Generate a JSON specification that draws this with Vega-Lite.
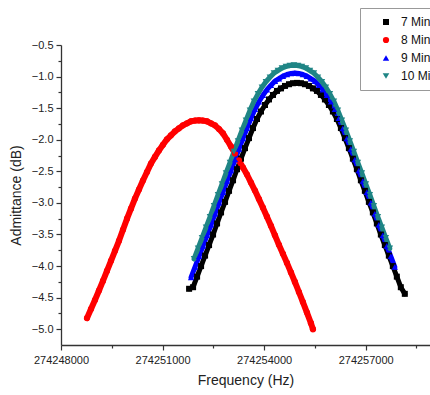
{
  "$schema": "https://vega.github.io/schema/vega-lite/v6.json",
  "autosize": {"type": "none"},
  "padding": {"left": 61, "top": 45, "right": 0, "bottom": 50},
  "width": 369,
  "height": 300,
  "background": "white",
  "config": {
    "view": {"stroke": null},
    "font": "Liberation Sans",
    "axis": {"grid": false, "domainColor": "#333", "tickColor": "#333", "domainWidth": 1.3, "tickWidth": 1.2, "labelColor": "#222", "titleColor": "#222", "labelFont": "Liberation Sans", "titleFont": "Liberation Sans", "titleFontWeight": "normal"}
  },
  "datasets": {
    "curves": [
      {"s":"7 Min","f":274251784,"v":-4.36},{"s":"7 Min","f":274251902,"v":-4.335},{"s":"7 Min","f":274252020,"v":-4.168},{"s":"7 Min","f":274252138,"v":-4.001},{"s":"7 Min","f":274252256,"v":-3.835},{"s":"7 Min","f":274252374,"v":-3.668},{"s":"7 Min","f":274252492,"v":-3.501},{"s":"7 Min","f":274252610,"v":-3.326},{"s":"7 Min","f":274252728,"v":-3.151},{"s":"7 Min","f":274252846,"v":-2.984},{"s":"7 Min","f":274252964,"v":-2.809},{"s":"7 Min","f":274253082,"v":-2.642},{"s":"7 Min","f":274253200,"v":-2.467},{"s":"7 Min","f":274253318,"v":-2.300},{"s":"7 Min","f":274253436,"v":-2.133},{"s":"7 Min","f":274253554,"v":-1.974},{"s":"7 Min","f":274253672,"v":-1.815},{"s":"7 Min","f":274253790,"v":-1.672},{"s":"7 Min","f":274253908,"v":-1.553},{"s":"7 Min","f":274254026,"v":-1.450},{"s":"7 Min","f":274254144,"v":-1.362},{"s":"7 Min","f":274254262,"v":-1.291},{"s":"7 Min","f":274254380,"v":-1.227},{"s":"7 Min","f":274254498,"v":-1.187},{"s":"7 Min","f":274254616,"v":-1.148},{"s":"7 Min","f":274254734,"v":-1.121},{"s":"7 Min","f":274254852,"v":-1.105},{"s":"7 Min","f":274254970,"v":-1.100},{"s":"7 Min","f":274255088,"v":-1.105},{"s":"7 Min","f":274255206,"v":-1.121},{"s":"7 Min","f":274255324,"v":-1.148},{"s":"7 Min","f":274255442,"v":-1.187},{"s":"7 Min","f":274255560,"v":-1.227},{"s":"7 Min","f":274255678,"v":-1.291},{"s":"7 Min","f":274255796,"v":-1.362},{"s":"7 Min","f":274255914,"v":-1.450},{"s":"7 Min","f":274256032,"v":-1.553},{"s":"7 Min","f":274256150,"v":-1.672},{"s":"7 Min","f":274256268,"v":-1.815},{"s":"7 Min","f":274256386,"v":-1.974},{"s":"7 Min","f":274256504,"v":-2.133},{"s":"7 Min","f":274256622,"v":-2.300},{"s":"7 Min","f":274256740,"v":-2.467},{"s":"7 Min","f":274256858,"v":-2.642},{"s":"7 Min","f":274256976,"v":-2.809},{"s":"7 Min","f":274257094,"v":-2.984},{"s":"7 Min","f":274257212,"v":-3.151},{"s":"7 Min","f":274257330,"v":-3.326},{"s":"7 Min","f":274257448,"v":-3.501},{"s":"7 Min","f":274257566,"v":-3.668},{"s":"7 Min","f":274257684,"v":-3.835},{"s":"7 Min","f":274257802,"v":-4.001},{"s":"7 Min","f":274257920,"v":-4.168},{"s":"7 Min","f":274258038,"v":-4.335},{"s":"7 Min","f":274258156,"v":-4.44},
      {"s":"8 Min","f":274248768,"v":-4.824},{"s":"8 Min","f":274248886,"v":-4.681},{"s":"8 Min","f":274249004,"v":-4.538},{"s":"8 Min","f":274249122,"v":-4.387},{"s":"8 Min","f":274249240,"v":-4.236},{"s":"8 Min","f":274249358,"v":-4.077},{"s":"8 Min","f":274249477,"v":-3.918},{"s":"8 Min","f":274249595,"v":-3.759},{"s":"8 Min","f":274249713,"v":-3.600},{"s":"8 Min","f":274249831,"v":-3.425},{"s":"8 Min","f":274249950,"v":-3.250},{"s":"8 Min","f":274250067,"v":-3.091},{"s":"8 Min","f":274250185,"v":-2.932},{"s":"8 Min","f":274250303,"v":-2.789},{"s":"8 Min","f":274250421,"v":-2.646},{"s":"8 Min","f":274250540,"v":-2.511},{"s":"8 Min","f":274250658,"v":-2.376},{"s":"8 Min","f":274250776,"v":-2.272},{"s":"8 Min","f":274250894,"v":-2.169},{"s":"8 Min","f":274251012,"v":-2.081},{"s":"8 Min","f":274251130,"v":-1.994},{"s":"8 Min","f":274251248,"v":-1.930},{"s":"8 Min","f":274251366,"v":-1.867},{"s":"8 Min","f":274251484,"v":-1.819},{"s":"8 Min","f":274251603,"v":-1.772},{"s":"8 Min","f":274251721,"v":-1.740},{"s":"8 Min","f":274251839,"v":-1.708},{"s":"8 Min","f":274251957,"v":-1.697},{"s":"8 Min","f":274252075,"v":-1.692},{"s":"8 Min","f":274252193,"v":-1.697},{"s":"8 Min","f":274252311,"v":-1.708},{"s":"8 Min","f":274252430,"v":-1.740},{"s":"8 Min","f":274252548,"v":-1.772},{"s":"8 Min","f":274252666,"v":-1.830},{"s":"8 Min","f":274252784,"v":-1.899},{"s":"8 Min","f":274252902,"v":-2.000},{"s":"8 Min","f":274253020,"v":-2.106},{"s":"8 Min","f":274253138,"v":-2.217},{"s":"8 Min","f":274253256,"v":-2.328},{"s":"8 Min","f":274253375,"v":-2.440},{"s":"8 Min","f":274253493,"v":-2.551},{"s":"8 Min","f":274253611,"v":-2.678},{"s":"8 Min","f":274253729,"v":-2.805},{"s":"8 Min","f":274253847,"v":-2.940},{"s":"8 Min","f":274253965,"v":-3.076},{"s":"8 Min","f":274254083,"v":-3.219},{"s":"8 Min","f":274254201,"v":-3.362},{"s":"8 Min","f":274254320,"v":-3.513},{"s":"8 Min","f":274254438,"v":-3.664},{"s":"8 Min","f":274254556,"v":-3.807},{"s":"8 Min","f":274254674,"v":-3.950},{"s":"8 Min","f":274254792,"v":-4.101},{"s":"8 Min","f":274254910,"v":-4.252},{"s":"8 Min","f":274255028,"v":-4.411},{"s":"8 Min","f":274255146,"v":-4.570},{"s":"8 Min","f":274255265,"v":-4.737},{"s":"8 Min","f":274255383,"v":-4.904},{"s":"8 Min","f":274255442,"v":-5.000},
      {"s":"9 Min","f":274251842,"v":-4.180},{"s":"9 Min","f":274251960,"v":-4.013},{"s":"9 Min","f":274252078,"v":-3.846},{"s":"9 Min","f":274252196,"v":-3.680},{"s":"9 Min","f":274252314,"v":-3.513},{"s":"9 Min","f":274252432,"v":-3.346},{"s":"9 Min","f":274252550,"v":-3.171},{"s":"9 Min","f":274252668,"v":-2.996},{"s":"9 Min","f":274252786,"v":-2.829},{"s":"9 Min","f":274252904,"v":-2.654},{"s":"9 Min","f":274253022,"v":-2.487},{"s":"9 Min","f":274253140,"v":-2.312},{"s":"9 Min","f":274253258,"v":-2.145},{"s":"9 Min","f":274253376,"v":-1.978},{"s":"9 Min","f":274253494,"v":-1.819},{"s":"9 Min","f":274253612,"v":-1.660},{"s":"9 Min","f":274253730,"v":-1.517},{"s":"9 Min","f":274253848,"v":-1.398},{"s":"9 Min","f":274253966,"v":-1.295},{"s":"9 Min","f":274254084,"v":-1.207},{"s":"9 Min","f":274254202,"v":-1.136},{"s":"9 Min","f":274254320,"v":-1.072},{"s":"9 Min","f":274254438,"v":-1.032},{"s":"9 Min","f":274254556,"v":-0.993},{"s":"9 Min","f":274254674,"v":-0.966},{"s":"9 Min","f":274254792,"v":-0.950},{"s":"9 Min","f":274254910,"v":-0.945},{"s":"9 Min","f":274255028,"v":-0.950},{"s":"9 Min","f":274255146,"v":-0.966},{"s":"9 Min","f":274255264,"v":-0.993},{"s":"9 Min","f":274255382,"v":-1.032},{"s":"9 Min","f":274255500,"v":-1.072},{"s":"9 Min","f":274255618,"v":-1.136},{"s":"9 Min","f":274255736,"v":-1.207},{"s":"9 Min","f":274255854,"v":-1.295},{"s":"9 Min","f":274255972,"v":-1.398},{"s":"9 Min","f":274256090,"v":-1.517},{"s":"9 Min","f":274256208,"v":-1.660},{"s":"9 Min","f":274256326,"v":-1.819},{"s":"9 Min","f":274256444,"v":-1.978},{"s":"9 Min","f":274256562,"v":-2.145},{"s":"9 Min","f":274256680,"v":-2.312},{"s":"9 Min","f":274256798,"v":-2.487},{"s":"9 Min","f":274256916,"v":-2.654},{"s":"9 Min","f":274257034,"v":-2.829},{"s":"9 Min","f":274257152,"v":-2.996},{"s":"9 Min","f":274257270,"v":-3.171},{"s":"9 Min","f":274257388,"v":-3.346},{"s":"9 Min","f":274257506,"v":-3.513},{"s":"9 Min","f":274257624,"v":-3.680},{"s":"9 Min","f":274257742,"v":-3.846},{"s":"9 Min","f":274257860,"v":-4.013},
      {"s":"10 Min","f":274251930,"v":-3.888},{"s":"10 Min","f":274252048,"v":-3.721},{"s":"10 Min","f":274252166,"v":-3.555},{"s":"10 Min","f":274252284,"v":-3.388},{"s":"10 Min","f":274252402,"v":-3.221},{"s":"10 Min","f":274252520,"v":-3.046},{"s":"10 Min","f":274252638,"v":-2.871},{"s":"10 Min","f":274252756,"v":-2.704},{"s":"10 Min","f":274252874,"v":-2.529},{"s":"10 Min","f":274252992,"v":-2.362},{"s":"10 Min","f":274253110,"v":-2.187},{"s":"10 Min","f":274253228,"v":-2.020},{"s":"10 Min","f":274253346,"v":-1.853},{"s":"10 Min","f":274253464,"v":-1.694},{"s":"10 Min","f":274253582,"v":-1.535},{"s":"10 Min","f":274253700,"v":-1.392},{"s":"10 Min","f":274253818,"v":-1.273},{"s":"10 Min","f":274253936,"v":-1.170},{"s":"10 Min","f":274254054,"v":-1.082},{"s":"10 Min","f":274254172,"v":-1.011},{"s":"10 Min","f":274254290,"v":-0.947},{"s":"10 Min","f":274254408,"v":-0.907},{"s":"10 Min","f":274254526,"v":-0.868},{"s":"10 Min","f":274254644,"v":-0.841},{"s":"10 Min","f":274254762,"v":-0.825},{"s":"10 Min","f":274254880,"v":-0.820},{"s":"10 Min","f":274254998,"v":-0.825},{"s":"10 Min","f":274255116,"v":-0.841},{"s":"10 Min","f":274255234,"v":-0.868},{"s":"10 Min","f":274255352,"v":-0.907},{"s":"10 Min","f":274255470,"v":-0.947},{"s":"10 Min","f":274255588,"v":-1.011},{"s":"10 Min","f":274255706,"v":-1.082},{"s":"10 Min","f":274255824,"v":-1.170},{"s":"10 Min","f":274255942,"v":-1.273},{"s":"10 Min","f":274256060,"v":-1.392},{"s":"10 Min","f":274256178,"v":-1.535},{"s":"10 Min","f":274256296,"v":-1.694},{"s":"10 Min","f":274256414,"v":-1.853},{"s":"10 Min","f":274256532,"v":-2.020},{"s":"10 Min","f":274256650,"v":-2.187},{"s":"10 Min","f":274256768,"v":-2.362},{"s":"10 Min","f":274256886,"v":-2.529},{"s":"10 Min","f":274257004,"v":-2.704},{"s":"10 Min","f":274257122,"v":-2.871},{"s":"10 Min","f":274257240,"v":-3.046},{"s":"10 Min","f":274257358,"v":-3.221},{"s":"10 Min","f":274257476,"v":-3.388},{"s":"10 Min","f":274257594,"v":-3.555},{"s":"10 Min","f":274257712,"v":-3.721}
    ]
  },
  "layer": [
    {
      "data": {"name": "curves"},
      "transform": [{"filter": "datum.s === '7 Min'"}],
      "mark": {"type": "line", "strokeCap": "round", "strokeJoin": "round", "strokeWidth": 5, "color": "#000000"},
      "encoding": {
        "x": {"field": "f", "type": "quantitative",
          "scale": {"domain": [274248000, 274258900], "nice": false, "zero": false},
          "axis": {"orient": "bottom", "values": [274248000, 274251000, 274254000, 274257000], "format": "d", "title": "Frequency (Hz)", "tickSize": 5, "labelPadding": 4, "labelFontSize": 11, "titleFontSize": 14, "titlePadding": 8, "labelFlush": false, "labelOverlap": false}},
        "y": {"field": "v", "type": "quantitative",
          "scale": {"domain": [-5.25, -0.5], "nice": false, "zero": false},
          "axis": {"orient": "left", "values": [-5, -4.5, -4, -3.5, -3, -2.5, -2, -1.5, -1, -0.5], "format": ".1f", "title": "Admittance (dB)", "tickSize": 5, "labelPadding": 3, "labelFontSize": 11, "titleFontSize": 14, "titlePadding": 8, "labelFlush": false, "labelOverlap": false}}
      }
    },
    {
      "data": {"name": "curves"},
      "transform": [{"filter": "datum.s === '8 Min'"}],
      "mark": {"type": "line", "strokeCap": "round", "strokeJoin": "round", "strokeWidth": 6, "color": "#ff0000"},
      "encoding": {
        "x": {"field": "f", "type": "quantitative", "axis": null},
        "y": {"field": "v", "type": "quantitative", "axis": null}
      }
    },
    {
      "data": {"name": "curves"},
      "transform": [{"filter": "datum.s === '9 Min'"}],
      "mark": {"type": "line", "strokeCap": "round", "strokeJoin": "round", "strokeWidth": 5, "color": "#0000ff"},
      "encoding": {
        "x": {"field": "f", "type": "quantitative", "axis": null},
        "y": {"field": "v", "type": "quantitative", "axis": null}
      }
    },
    {
      "data": {"name": "curves"},
      "transform": [{"filter": "datum.s === '10 Min'"}],
      "mark": {"type": "line", "strokeCap": "round", "strokeJoin": "round", "strokeWidth": 5, "color": "#1f8585"},
      "encoding": {
        "x": {"field": "f", "type": "quantitative", "axis": null},
        "y": {"field": "v", "type": "quantitative", "axis": null}
      }
    },
    {
      "data": {"name": "curves"},
      "mark": {"type": "point", "filled": true, "opacity": 1, "strokeWidth": 0},
      "encoding": {
        "x": {"field": "f", "type": "quantitative", "axis": null},
        "y": {"field": "v", "type": "quantitative", "axis": null},
        "color": {"field": "s", "type": "nominal",
          "scale": {"domain": ["7 Min", "8 Min", "9 Min", "10 Min"], "range": ["#000000", "#ff0000", "#0000ff", "#1f8585"]},
          "legend": {"orient": "none", "legendX": 299, "legendY": -37, "title": null, "padding": 8, "strokeColor": "#999", "fillColor": "white", "labelFontSize": 12, "labelColor": "#111", "symbolSize": 36, "symbolOffset": 12, "labelOffset": 9, "rowPadding": 6, "symbolStrokeWidth": 0}},
        "shape": {"field": "s", "type": "nominal",
          "scale": {"domain": ["7 Min", "8 Min", "9 Min", "10 Min"], "range": ["square", "circle", "triangle-up", "triangle-down"]}},
        "size": {"field": "s", "type": "ordinal",
          "scale": {"domain": ["7 Min", "8 Min", "9 Min", "10 Min"], "range": [36, 44, 50, 60]}, "legend": null}
      }
    },
    {
      "data": {"name": "curves"},
      "mark": {"type": "point", "opacity": 0},
      "encoding": {
        "x": {"field": "f", "type": "quantitative",
          "axis": {"orient": "bottom", "values": [274249500, 274252500, 274255500, 274258500], "labels": false, "domain": false, "title": null, "tickSize": 3}},
        "y": {"field": "v", "type": "quantitative",
          "axis": {"orient": "left", "values": [-4.75, -4.25, -3.75, -3.25, -2.75, -2.25, -1.75, -1.25, -0.75], "labels": false, "domain": false, "title": null, "tickSize": 3}}
      }
    }
  ],
  "resolve": {"axis": {"x": "independent", "y": "independent"}}
}
